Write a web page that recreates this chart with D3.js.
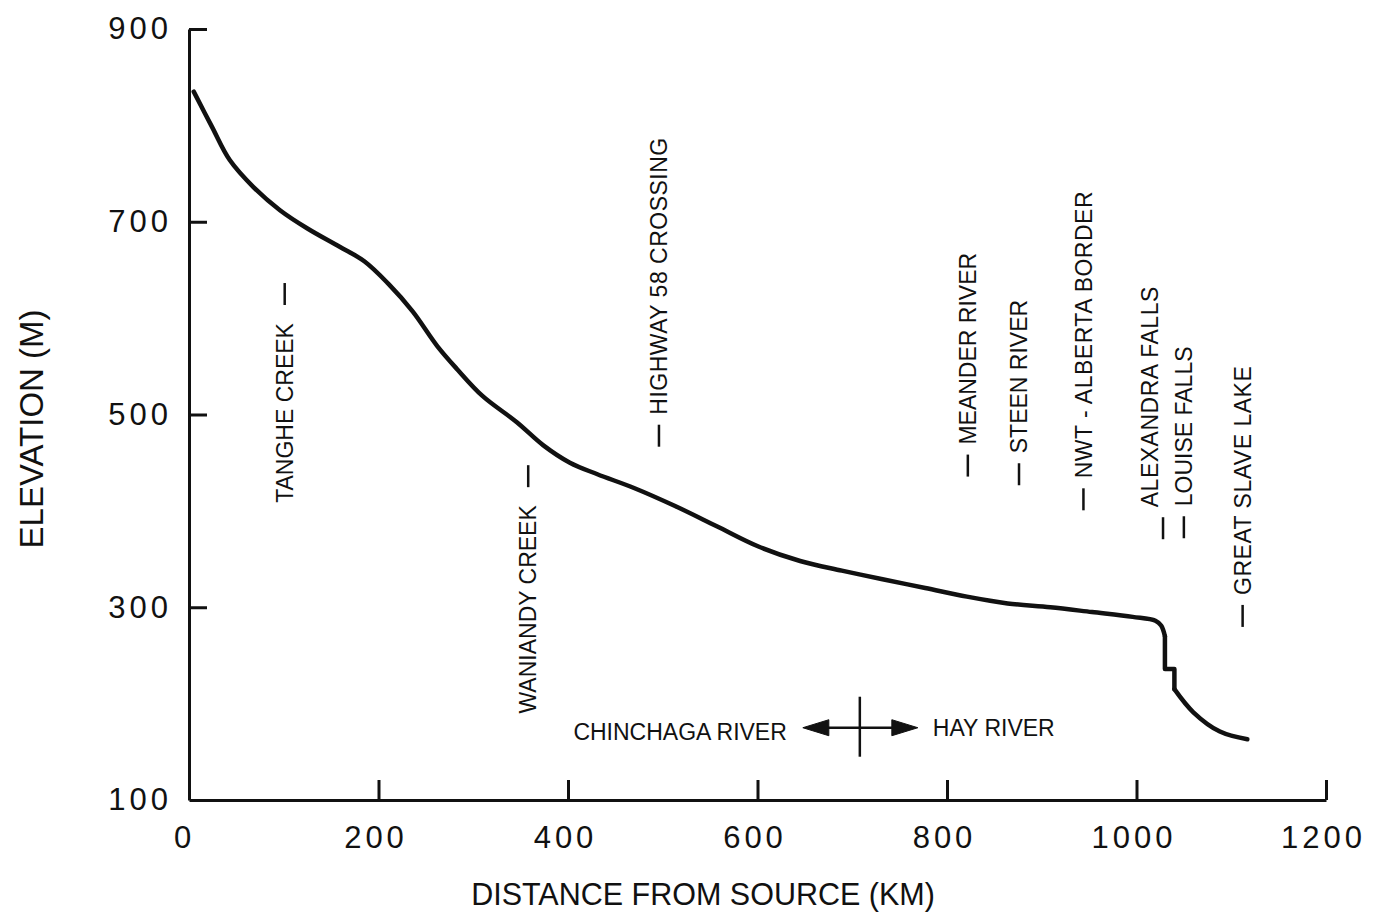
<!DOCTYPE html>
<html>
<head>
<meta charset="utf-8">
<title>Hay River longitudinal profile</title>
<script src="https://cdn.jsdelivr.net/npm/d3@7"></script>
<style>
  html, body { margin: 0; padding: 0; background: #fff; }
  svg { display: block; }
  text { font-family: "Liberation Sans", Arial, Helvetica, sans-serif; fill: #111; }
</style>
</head>
<body>
<svg id="chart" width="1373" height="916"></svg>
<script>
// River profile: distance from source (km) and channel elevation (m)
const distanceKm = [5, 24, 43, 68, 96, 125, 159, 185, 210, 236, 262, 283, 310, 346, 374, 402, 431, 469, 513, 557, 601, 645, 689, 732, 777, 821, 864, 909, 953, 996, 1020, 1026, 1030, 1030, 1040, 1040, 1060, 1088, 1117];
const elevationM = [835, 799, 764, 736, 712, 693, 674, 659, 636, 607, 571, 547, 519, 492, 468, 450, 438, 424, 405, 384, 363, 348, 338, 329, 320, 311, 304, 300, 295, 290, 286, 281, 270, 236, 236, 215, 191, 171, 163];

// Axis ticks
const xTickValues = [0, 200, 400, 600, 800, 1000, 1200];
const yTickValues = [100, 300, 500, 700, 900];

// Landmarks along the river
const landmarkNames = ["TANGHE CREEK", "WANIANDY CREEK", "HIGHWAY 58 CROSSING", "MEANDER RIVER", "STEEN RIVER", "NWT - ALBERTA BORDER", "ALEXANDRA FALLS", "LOUISE FALLS", "GREAT SLAVE LAKE"];
const landmarkKm = [101, 358, 496, 822, 876, 944, 1028, 1050, 1112];
const landmarkMarkElev = [625, 436, 478, 447, 438, 412, 382, 383, 291];
const landmarkTextSide = ["below", "below", "above", "above", "above", "above", "above", "above", "above"];

// Confluence separating the two river names
const confluenceKm = 708;
const confluenceElev = 175;
const reachNames = ["CHINCHAGA RIVER", "HAY RIVER"];

const svg = d3.select("#chart");

const x = d3.scaleLinear().domain([0, 1200]).range([189, 1326]);
const y = d3.scaleLinear().domain([100, 900]).range([800, 29]);

// Y axis (ticks point inward)
const yAxis = d3.axisLeft(y)
  .tickValues(yTickValues)
  .tickSizeInner(-18)
  .tickSizeOuter(0)
  .tickPadding(21)
  .tickFormat(d3.format("d"));

const gy = svg.append("g").attr("transform", `translate(${x(0)},0)`).call(yAxis);
gy.select(".domain").attr("stroke", "#111").attr("stroke-width", 3);
gy.selectAll(".tick line").attr("stroke", "#111").attr("stroke-width", 3)
  .filter(d => d === 100).remove();
gy.selectAll(".tick text")
  .attr("font-size", 31)
  .attr("letter-spacing", 4)
  .attr("dx", 4)
  .attr("fill", "#111");

// X axis (ticks point inward)
const xAxis = d3.axisBottom(x)
  .tickValues(xTickValues)
  .tickSizeInner(-20)
  .tickSizeOuter(0)
  .tickPadding(26)
  .tickFormat(d3.format("d"));

const gx = svg.append("g").attr("transform", `translate(0,${y(100)})`).call(xAxis);
gx.select(".domain").attr("stroke", "#111").attr("stroke-width", 3);
gx.selectAll(".tick line").attr("stroke", "#111").attr("stroke-width", 3)
  .filter(d => d === 0).remove();
gx.selectAll(".tick text")
  .attr("font-size", 31)
  .attr("letter-spacing", 4)
  .attr("dx", d => d === 0 ? -5 : -3)
  .attr("fill", "#111");

// Axis titles
svg.append("text")
  .attr("transform", `translate(43,${y(485)}) rotate(-90)`)
  .attr("text-anchor", "middle")
  .attr("font-size", 33)
  .text("ELEVATION (M)");

svg.append("text")
  .attr("x", 703)
  .attr("y", 905)
  .attr("text-anchor", "middle")
  .attr("font-size", 30.5)
  .text("DISTANCE FROM SOURCE (KM)");

// Profile line: smooth reaches joined by straight falls segments
const profile = distanceKm.map((d, i) => [d, elevationM[i]]);
const smooth = d3.line()
  .x(d => x(d[0]))
  .y(d => y(d[1]))
  .curve(d3.curveCatmullRom.alpha(0.5));
const straight = d3.line()
  .x(d => x(d[0]))
  .y(d => y(d[1]));

// Find the falls: consecutive points sharing the same distance
const dupIdx = [];
for (let i = 1; i < distanceKm.length; i++) if (distanceKm[i] === distanceKm[i - 1]) dupIdx.push(i);
const fallsStart = dupIdx[0] - 1;
const fallsEnd = dupIdx[dupIdx.length - 1];

const pieces = [
  { pts: profile.slice(0, fallsStart + 1), gen: smooth },
  { pts: profile.slice(fallsStart, fallsEnd + 1), gen: straight },
  { pts: profile.slice(fallsEnd), gen: smooth }
];

svg.append("g").selectAll("path").data(pieces).join("path")
  .attr("d", d => d.gen(d.pts))
  .attr("fill", "none")
  .attr("stroke", "#111")
  .attr("stroke-width", 4.5)
  .attr("stroke-linejoin", "round")
  .attr("stroke-linecap", "round");

// Landmark markers and rotated labels
const markHalf = 11;
const landmarks = landmarkNames.map((name, i) => ({
  name, km: landmarkKm[i], elev: landmarkMarkElev[i], side: landmarkTextSide[i]
}));

const lm = svg.append("g").selectAll("g").data(landmarks).join("g");

lm.append("line")
  .attr("x1", d => x(d.km)).attr("x2", d => x(d.km))
  .attr("y1", d => y(d.elev) - markHalf).attr("y2", d => y(d.elev) + markHalf)
  .attr("stroke", "#111").attr("stroke-width", 2.5);

lm.append("text")
  .attr("font-size", 23)
  .attr("dy", "0.36em")
  .attr("letter-spacing", d => d.name.length > 14 ? 0.5 : 0)
  .attr("text-anchor", d => d.side === "above" ? "start" : "end")
  .attr("transform", d => {
    const cx = d.name === "ALEXANDRA FALLS" ? x(d.km) - 13 : x(d.km);
    const gap = d.side === "above" ? -(markHalf + 10) : (markHalf + 18);
    return `translate(${cx},${y(d.elev) + gap}) rotate(-90)`;
  })
  .text(d => d.name);

// Confluence marker with arrows toward each reach
const cx = x(confluenceKm);
const cy = y(confluenceElev);
const conf = svg.append("g").attr("fill", "#111").attr("stroke", "#111");
conf.append("line").attr("x1", cx).attr("x2", cx).attr("y1", cy - 31).attr("y2", cy + 29).attr("stroke-width", 2.5);
conf.append("line").attr("x1", cx - 40).attr("x2", cx + 40).attr("y1", cy).attr("y2", cy).attr("stroke-width", 2.5);
conf.append("path")
  .attr("d", `M${cx - 57},${cy} L${cx - 31},${cy - 8} L${cx - 31},${cy + 8} Z`)
  .attr("stroke-width", 1);
conf.append("path")
  .attr("d", `M${cx + 58},${cy} L${cx + 32},${cy - 8} L${cx + 32},${cy + 8} Z`)
  .attr("stroke-width", 1);

svg.append("text")
  .attr("x", cx - 73).attr("y", cy + 4)
  .attr("dy", "0.36em")
  .attr("text-anchor", "end")
  .attr("font-size", 23)
  .text(reachNames[0]);

svg.append("text")
  .attr("x", cx + 73).attr("y", cy)
  .attr("dy", "0.36em")
  .attr("text-anchor", "start")
  .attr("font-size", 23)
  .text(reachNames[1]);
</script>
</body>
</html>
